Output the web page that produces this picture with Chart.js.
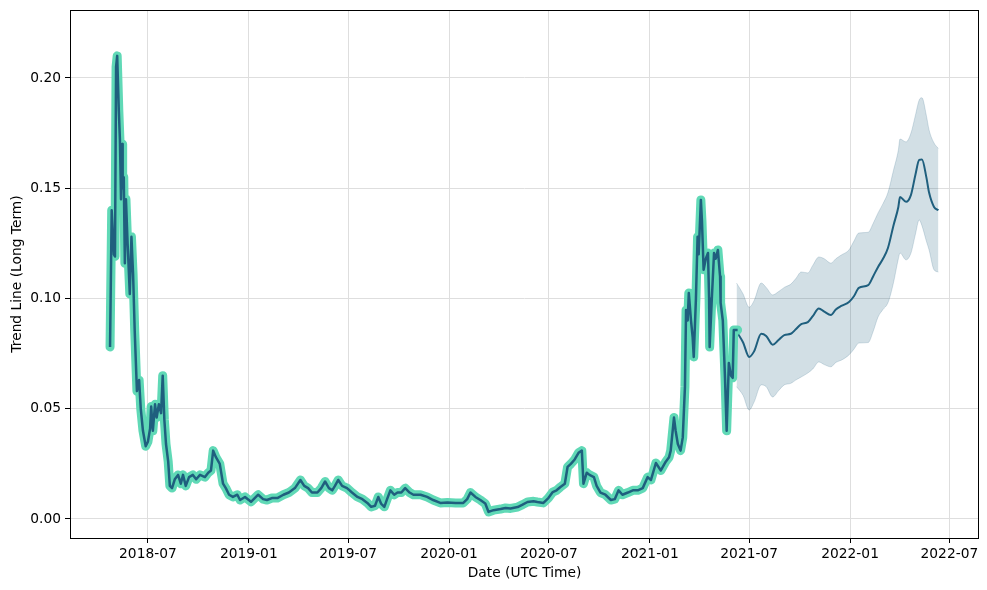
<!DOCTYPE html>
<html>
<head>
<meta charset="utf-8">
<script src="https://cdn.jsdelivr.net/npm/chart.js@4.4.0/dist/chart.umd.min.js"></script>
<style>
  html, body { margin: 0; padding: 0; background: #fff; }
</style>
</head>
<body>
<canvas id="chart" width="987" height="590"></canvas>
<script>
// historical trend (samples)
const histDates = [
  '2018-04-23','2018-04-26','2018-04-30','2018-05-02','2018-05-04','2018-05-06','2018-05-09','2018-05-11','2018-05-13','2018-05-15',
  '2018-05-16','2018-05-18','2018-05-20','2018-05-22','2018-05-25','2018-05-29','2018-06-01','2018-06-04','2018-06-07','2018-06-11',
  '2018-06-15','2018-06-18','2018-06-22','2018-06-27','2018-07-01','2018-07-05','2018-07-07','2018-07-10','2018-07-14','2018-07-17',
  '2018-07-21','2018-07-25','2018-07-28','2018-07-31','2018-08-03','2018-08-07','2018-08-10','2018-08-14','2018-08-19','2018-08-25',
  '2018-08-30','2018-09-03','2018-09-08','2018-09-14','2018-09-21','2018-09-27','2018-10-04','2018-10-13','2018-10-19','2018-10-24',
  '2018-10-28','2018-11-02','2018-11-09','2018-11-15','2018-11-20','2018-11-26','2018-12-03','2018-12-11','2018-12-16','2018-12-25',
  '2019-01-05','2019-01-18','2019-01-27','2019-02-03','2019-02-12','2019-02-22','2019-03-05','2019-03-15','2019-03-26','2019-04-05',
  '2019-04-12','2019-04-19','2019-04-26','2019-05-06','2019-05-13','2019-05-20','2019-05-27','2019-06-02','2019-06-07','2019-06-13',
  '2019-06-20','2019-06-29','2019-07-08','2019-07-18','2019-07-27','2019-08-05','2019-08-12','2019-08-19','2019-08-25','2019-08-30',
  '2019-09-05','2019-09-10','2019-09-16','2019-09-23','2019-09-29','2019-10-06','2019-10-13','2019-10-21','2019-10-28','2019-11-10',
  '2019-11-22','2019-12-03','2019-12-16','2019-12-29',
  '2020-01-13','2020-01-27','2020-02-03','2020-02-09','2020-02-18','2020-02-27','2020-03-07','2020-03-13','2020-03-22','2020-04-04',
  '2020-04-13','2020-04-22','2020-05-05','2020-05-14','2020-05-23','2020-06-03','2020-06-10','2020-06-21','2020-06-30','2020-07-08',
  '2020-07-15','2020-07-22','2020-07-30','2020-08-04','2020-08-10','2020-08-17','2020-08-24','2020-08-30','2020-09-02','2020-09-08',
  '2020-09-13','2020-09-21','2020-09-26','2020-10-03','2020-10-12','2020-10-22','2020-10-29','2020-11-05','2020-11-12','2020-11-22',
  '2020-12-01','2020-12-10','2020-12-19','2020-12-28',
  '2021-01-03','2021-01-12','2021-01-21','2021-01-30','2021-02-05','2021-02-08','2021-02-14','2021-02-17','2021-02-21','2021-02-26',
  '2021-03-02','2021-03-06','2021-03-08','2021-03-11','2021-03-13','2021-03-17','2021-03-20','2021-03-22','2021-03-26','2021-03-29',
  '2021-03-31','2021-04-04','2021-04-06','2021-04-09','2021-04-13','2021-04-17','2021-04-19','2021-04-20','2021-04-24','2021-04-28',
  '2021-05-01','2021-05-05','2021-05-09','2021-05-10','2021-05-14','2021-05-18','2021-05-21','2021-05-25','2021-05-29','2021-06-01',
  '2021-06-03','2021-06-10'
];
const histValues = [
  0.078, 0.140, 0.120, 0.119, 0.205, 0.210, 0.185, 0.172, 0.145, 0.170,
  0.150, 0.155, 0.116, 0.145, 0.125, 0.102, 0.128, 0.111, 0.085, 0.058,
  0.063, 0.050, 0.040, 0.033, 0.035, 0.041, 0.051, 0.040, 0.052, 0.046,
  0.052, 0.048, 0.065, 0.045, 0.034, 0.026, 0.015, 0.014, 0.018, 0.020,
  0.016, 0.020, 0.015, 0.019, 0.020, 0.018, 0.020, 0.019, 0.021, 0.022,
  0.031, 0.028, 0.025, 0.016, 0.014, 0.011, 0.010, 0.011, 0.0086, 0.010,
  0.0078, 0.011, 0.009, 0.0086, 0.0095, 0.0095, 0.011, 0.012, 0.014, 0.0177,
  0.015, 0.014, 0.012, 0.012, 0.014, 0.017, 0.014, 0.013, 0.015, 0.0177,
  0.015, 0.014, 0.012, 0.010, 0.009, 0.0073, 0.0055, 0.006, 0.010, 0.007,
  0.0055, 0.009, 0.013, 0.011, 0.012, 0.012, 0.014, 0.012, 0.011, 0.011,
  0.010, 0.0086, 0.0073, 0.0075,
  0.0073, 0.0073, 0.009, 0.012, 0.010, 0.0086, 0.007, 0.0032, 0.004, 0.0045,
  0.005, 0.0048, 0.0054, 0.0065, 0.0077, 0.008, 0.0077, 0.0073, 0.0095, 0.0122,
  0.013, 0.0145, 0.016, 0.0236, 0.025, 0.027, 0.030, 0.031, 0.016, 0.021,
  0.020, 0.019, 0.015, 0.012, 0.011, 0.0086, 0.009, 0.013, 0.011, 0.012,
  0.013, 0.013, 0.014, 0.019,
  0.0177, 0.0254, 0.022, 0.026, 0.028, 0.031, 0.046, 0.040, 0.034, 0.031,
  0.037, 0.060, 0.0948, 0.090, 0.1025, 0.090, 0.0825, 0.0735, 0.100, 0.128,
  0.120, 0.1447, 0.135, 0.113, 0.118, 0.1206, 0.100, 0.078, 0.100, 0.1206,
  0.118, 0.122, 0.110, 0.098, 0.090, 0.064, 0.040, 0.0707, 0.065, 0.064,
  0.0857, 0.0857
];

// forecast with its uncertainty band
const fcDates = [
  '2021-06-08','2021-06-20','2021-07-01','2021-07-10','2021-07-23','2021-08-01','2021-08-13','2021-08-23','2021-09-03','2021-09-15',
  '2021-09-24','2021-10-04','2021-10-16','2021-10-25','2021-11-05','2021-11-15','2021-11-27','2021-12-06','2021-12-16','2021-12-30',
  '2022-01-08','2022-01-17','2022-02-03','2022-02-12','2022-02-21','2022-03-02','2022-03-11','2022-03-21','2022-03-30','2022-04-02',
  '2022-04-13','2022-04-22','2022-04-30','2022-05-07','2022-05-12','2022-05-20','2022-05-25','2022-06-03','2022-06-11'
];
const fcValues = [
  0.085, 0.080, 0.0735, 0.076, 0.084, 0.083, 0.079, 0.081, 0.0834, 0.084,
  0.086, 0.0884, 0.0893, 0.092, 0.0955, 0.094, 0.0925, 0.095, 0.0966, 0.0984,
  0.101, 0.1048, 0.106, 0.110, 0.1143, 0.118, 0.1229, 0.133, 0.1415, 0.146,
  0.1438, 0.147, 0.156, 0.1628, 0.163, 0.155, 0.148, 0.1415, 0.140
];
const fcLower = [
  0.060, 0.056, 0.0494, 0.053, 0.0608, 0.060, 0.0553, 0.058, 0.0608, 0.0615,
  0.063, 0.0644, 0.0662, 0.068, 0.0712, 0.070, 0.069, 0.071, 0.072, 0.0744,
  0.077, 0.0798, 0.080, 0.085, 0.0916, 0.095, 0.098, 0.107, 0.118, 0.1206,
  0.1175, 0.1206, 0.129, 0.1356, 0.133, 0.126, 0.122, 0.113, 0.112
];
const fcUpper = [
  0.107, 0.102, 0.096, 0.099, 0.107, 0.105, 0.1016, 0.103, 0.105, 0.1065,
  0.109, 0.112, 0.1116, 0.115, 0.1188, 0.118, 0.116, 0.118, 0.1197, 0.122,
  0.126, 0.1297, 0.130, 0.134, 0.1388, 0.143, 0.148, 0.158, 0.1673, 0.1723,
  0.171, 0.175, 0.183, 0.190, 0.191, 0.183, 0.1764, 0.1705, 0.168
];

const xTickLabels = ['2018-07','2019-01','2019-07','2020-01','2020-07','2021-01','2021-07','2022-01','2022-07'];
const yTickValues = [0, 0.05, 0.10, 0.15, 0.20];

const toTime = s => Date.parse(s);
const pts = (dates, vals) => dates.map((d, i) => ({ x: toTime(d), y: vals[i] }));

const FONT = 'DejaVu Sans';
const DARK = '#1f5f7e';
const TEAL = '#60d9b6';

// matplotlib-like box around the plot area
const framePlugin = {
  id: 'frame',
  afterDatasetsDraw(chart) {
    const { ctx, chartArea: a } = chart;
    ctx.save();
    ctx.strokeStyle = '#000';
    ctx.lineWidth = 1;
    ctx.strokeRect(a.left + 0.5, a.top + 0.5, a.right - a.left - 1, a.bottom - a.top);
    ctx.restore();
  }
};

new Chart(document.getElementById('chart'), {
  type: 'line',
  data: {
    datasets: [
      {
        data: pts(histDates, histValues),
        borderColor: DARK, borderWidth: 2.5, pointRadius: 0,
        borderJoinStyle: 'round', fill: false, order: 0
      },
      {
        data: pts(histDates, histValues),
        borderColor: TEAL, borderWidth: 9, pointRadius: 0,
        borderJoinStyle: 'round', borderCapStyle: 'round', fill: false, order: 1
      },
      {
        data: pts(fcDates, fcValues),
        borderColor: DARK, borderWidth: 2, pointRadius: 0,
        cubicInterpolationMode: 'monotone', fill: false, order: 2
      },
      {
        data: pts(fcDates, fcLower),
        borderColor: 'rgba(31,95,126,0.18)', borderWidth: 1, pointRadius: 0,
        cubicInterpolationMode: 'monotone', fill: false, order: 3
      },
      {
        data: pts(fcDates, fcUpper),
        borderColor: 'rgba(31,95,126,0.18)', borderWidth: 1, pointRadius: 0,
        backgroundColor: 'rgba(31,95,126,0.2)',
        cubicInterpolationMode: 'monotone', fill: '-1', order: 4
      }
    ]
  },
  options: {
    responsive: false,
    animation: false,
    layout: { padding: { left: 0, right: 8, top: 0, bottom: 0 } },
    plugins: { legend: { display: false }, tooltip: { enabled: false } },
    scales: {
      x: {
        type: 'linear',
        min: toTime('2018-02-09'),
        max: toTime('2022-08-24'),
        afterBuildTicks: scale => { scale.ticks = xTickLabels.map(l => ({ value: toTime(l + '-01') })); },
        afterFit: scale => { scale.height = 52; scale.paddingLeft = 0; scale.paddingRight = 0; },
        ticks: {
          color: '#000', font: { family: FONT, size: 13.8 }, padding: 3, maxRotation: 0,
          callback: v => {
            const d = new Date(v);
            return d.getUTCFullYear() + '-' + String(d.getUTCMonth() + 1).padStart(2, '0');
          }
        },
        grid: { color: '#dedede', lineWidth: 1, tickColor: '#000', tickLength: 5 },
        border: { display: false },
        title: { display: true, text: 'Date (UTC Time)', color: '#000', font: { family: FONT, size: 13.8 }, padding: { top: 0, bottom: 8 } }
      },
      y: {
        type: 'linear',
        min: -0.00862,
        max: 0.2308,
        afterBuildTicks: scale => { scale.ticks = yTickValues.map(v => ({ value: v })); },
        afterFit: scale => { scale.width = 70; scale.paddingTop = 10; scale.paddingBottom = 0; },
        ticks: { color: '#000', font: { family: FONT, size: 13.8 }, padding: 4, callback: v => v.toFixed(2) },
        grid: { color: '#dedede', lineWidth: 1, tickColor: '#000', tickLength: 5 },
        border: { display: false },
        title: { display: true, text: 'Trend Line (Long Term)', color: '#000', font: { family: FONT, size: 13.8 }, padding: { top: 9, bottom: 0 } }
      }
    }
  },
  plugins: [framePlugin]
});
</script>
</body>
</html>
